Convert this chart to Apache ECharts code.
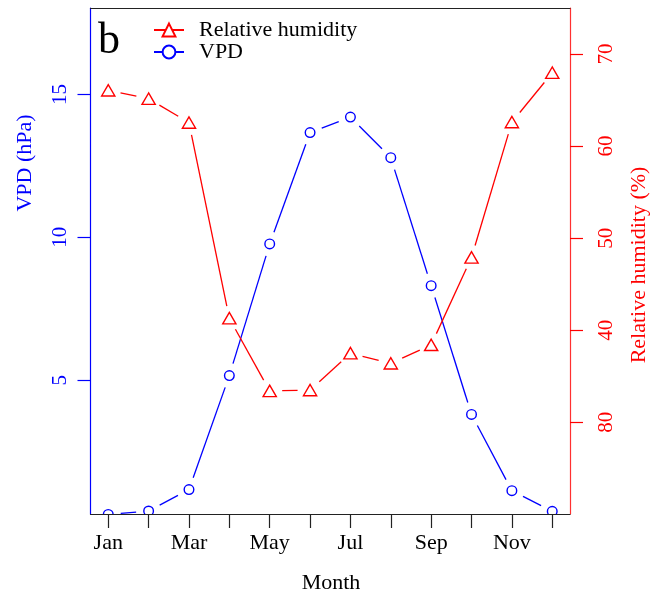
<!DOCTYPE html>
<html>
<head>
<meta charset="utf-8">
<script src="https://cdn.jsdelivr.net/npm/echarts@6/dist/echarts.min.js"></script>
<style>
html,body{margin:0;padding:0;background:#fff;}
#chart{width:664px;height:596px;}
</style>
</head>
<body>
<div id="chart"></div>
<script>
// ---- data ----
var months = ['Jan','Feb','Mar','Apr','May','Jun','Jul','Aug','Sep','Oct','Nov','Dec'];
var monthIndex = [1,2,3,4,5,6,7,8,9,10,11,12];
var monthLabelValues = [1,3,5,7,9,11];
var vpd = [0.30, 0.42, 1.17, 5.16, 9.77, 13.67, 14.21, 12.79, 8.31, 3.80, 1.13, 0.41];
var rh = [66.05, 65.14, 62.55, 41.3, 33.4, 33.5, 37.5, 36.4, 38.4, 47.9, 62.6, 67.96];
var vpdTickValues = [5, 10, 15];
var rhTickValues = [30, 40, 50, 60, 70];
var rhTickLabels = ['80', '40', '50', '60', '70'];

var BLUE = '#0000ff', RED = '#ff0000';
var FONT = 'Liberation Serif';
var GAP = 12.5;

function segData(vals) {
  var out = [];
  for (var i = 0; i < vals.length - 1; i++) {
    out.push([monthIndex[i], vals[i], monthIndex[i + 1], vals[i + 1]]);
  }
  return out;
}
function ptData(vals) {
  return vals.map(function (v, i) { return [monthIndex[i], v]; });
}
function segRender(color) {
  return function (params, api) {
    var p1 = api.coord([api.value(0), api.value(1)]);
    var p2 = api.coord([api.value(2), api.value(3)]);
    var dx = p2[0] - p1[0], dy = p2[1] - p1[1];
    var len = Math.sqrt(dx * dx + dy * dy);
    if (len <= 2 * GAP) return null;
    var ux = dx / len, uy = dy / len;
    return {
      type: 'line',
      shape: { x1: p1[0] + ux * GAP, y1: p1[1] + uy * GAP, x2: p2[0] - ux * GAP, y2: p2[1] - uy * GAP },
      style: { stroke: color, lineWidth: 1.3 }
    };
  };
}
function circleRender(params, api) {
  var p = api.coord([api.value(0), api.value(1)]);
  return { type: 'circle', shape: { cx: p[0], cy: p[1], r: 4.8 }, style: { fill: 'none', stroke: BLUE, lineWidth: 1.4 } };
}
function triRender(params, api) {
  var p = api.coord([api.value(0), api.value(1)]);
  return {
    type: 'polygon',
    shape: { points: [[p[0], p[1] - 5.8], [p[0] - 6.6, p[1] + 5.6], [p[0] + 6.6, p[1] + 5.6]] },
    style: { fill: 'none', stroke: RED, lineWidth: 1.4 }
  };
}

var chart = echarts.init(document.getElementById('chart'), null, { renderer: 'canvas' });
var option = {
  backgroundColor: '#fff',
  animation: false,
  grid: { left: 90.5, right: 94, top: 8, bottom: 82, containLabel: false },
  legend: {
    orient: 'vertical', left: 153, top: 19, padding: 0, itemWidth: 30, itemHeight: 16, itemGap: 0,
    textStyle: { fontFamily: FONT, fontSize: 22, color: '#000', lineHeight: 22, padding: [0, 0, 0, 10] },
    data: ['Relative humidity', 'VPD']
  },
  xAxis: [{
    type: 'value', min: 0.56, max: 12.44, position: 'bottom',
    axisLine: { show: true, onZero: false, lineStyle: { color: '#222', width: 1.2 } },
    axisTick: { show: true, customValues: monthIndex, length: 14, lineStyle: { color: '#222', width: 1.2 } },
    axisLabel: {
      customValues: monthLabelValues, margin: 18,
      fontFamily: FONT, fontSize: 22, color: '#000',
      formatter: function (v) { return months[Math.round(v) - 1]; }
    },
    splitLine: { show: false }
  }, {
    type: 'value', min: 0.56, max: 12.44, position: 'top',
    axisLine: { show: true, onZero: false, lineStyle: { color: '#222', width: 1.2 } },
    axisTick: { show: false }, axisLabel: { show: false }, splitLine: { show: false }
  }],
  yAxis: [{
    type: 'value', min: 0.315, max: 18.03, position: 'left',
    axisLine: { show: true, onZero: false, lineStyle: { color: BLUE, width: 1.2 } },
    axisTick: { show: true, customValues: vpdTickValues, length: 13, lineStyle: { color: BLUE, width: 1.2 } },
    axisLabel: { customValues: vpdTickValues, rotate: 90, margin: 20, fontFamily: FONT, fontSize: 21, color: BLUE },
    splitLine: { show: false }
  }, {
    type: 'value', min: 20.04, max: 75.0, position: 'right',
    axisLine: { show: true, onZero: false, lineStyle: { color: '#ff3030', width: 1.2 } },
    axisTick: { show: true, customValues: rhTickValues, length: 13, lineStyle: { color: RED, width: 1.2 } },
    axisLabel: {
      customValues: rhTickValues, rotate: 90, margin: 26, fontFamily: FONT, fontSize: 21, color: RED,
      formatter: function (v) { return rhTickLabels[rhTickValues.indexOf(Math.round(v))]; }
    },
    splitLine: { show: false }
  }],
  series: [
    { name: 'Relative humidity', type: 'line', data: [], yAxisIndex: 1, symbol: 'emptyTriangle', symbolSize: 12,
      itemStyle: { color: RED, borderWidth: 1.4 }, lineStyle: { color: RED, width: 1.3 } },
    { name: 'VPD', type: 'line', data: [], yAxisIndex: 0, symbol: 'emptyCircle', symbolSize: 10,
      itemStyle: { color: BLUE, borderWidth: 1.4 }, lineStyle: { color: BLUE, width: 1.3 } },
    { name: 'VPD', type: 'custom', yAxisIndex: 0, clip: true, data: segData(vpd),
      encode: { x: [0, 2], y: [1, 3] }, renderItem: segRender(BLUE) },
    { name: 'Relative humidity', type: 'custom', yAxisIndex: 1, clip: true, data: segData(rh),
      encode: { x: [0, 2], y: [1, 3] }, renderItem: segRender(RED) },
    { name: 'VPD', type: 'custom', yAxisIndex: 0, clip: true, data: ptData(vpd),
      encode: { x: 0, y: 1 }, renderItem: circleRender },
    { name: 'Relative humidity', type: 'custom', yAxisIndex: 1, clip: true, data: ptData(rh),
      encode: { x: 0, y: 1 }, renderItem: triRender }
  ],
  graphic: [
    { type: 'text', left: 98, top: 19, style: { text: 'b', fontFamily: FONT, fontSize: 44, fill: '#000' } },
    { type: 'text', x: 25, y: 163, rotation: Math.PI / 2,
      style: { text: 'VPD (hPa)', fontFamily: FONT, fontSize: 22, fill: BLUE, align: 'center', verticalAlign: 'middle' } },
    { type: 'text', x: 639, y: 265, rotation: Math.PI / 2,
      style: { text: 'Relative humidity (%)', fontFamily: FONT, fontSize: 22, fill: RED, align: 'center', verticalAlign: 'middle' } },
    { type: 'text', x: 331, y: 583,
      style: { text: 'Month', fontFamily: FONT, fontSize: 22, fill: '#000', align: 'center', verticalAlign: 'middle' } }
  ]
};
chart.setOption(option);
</script>
</body>
</html>
